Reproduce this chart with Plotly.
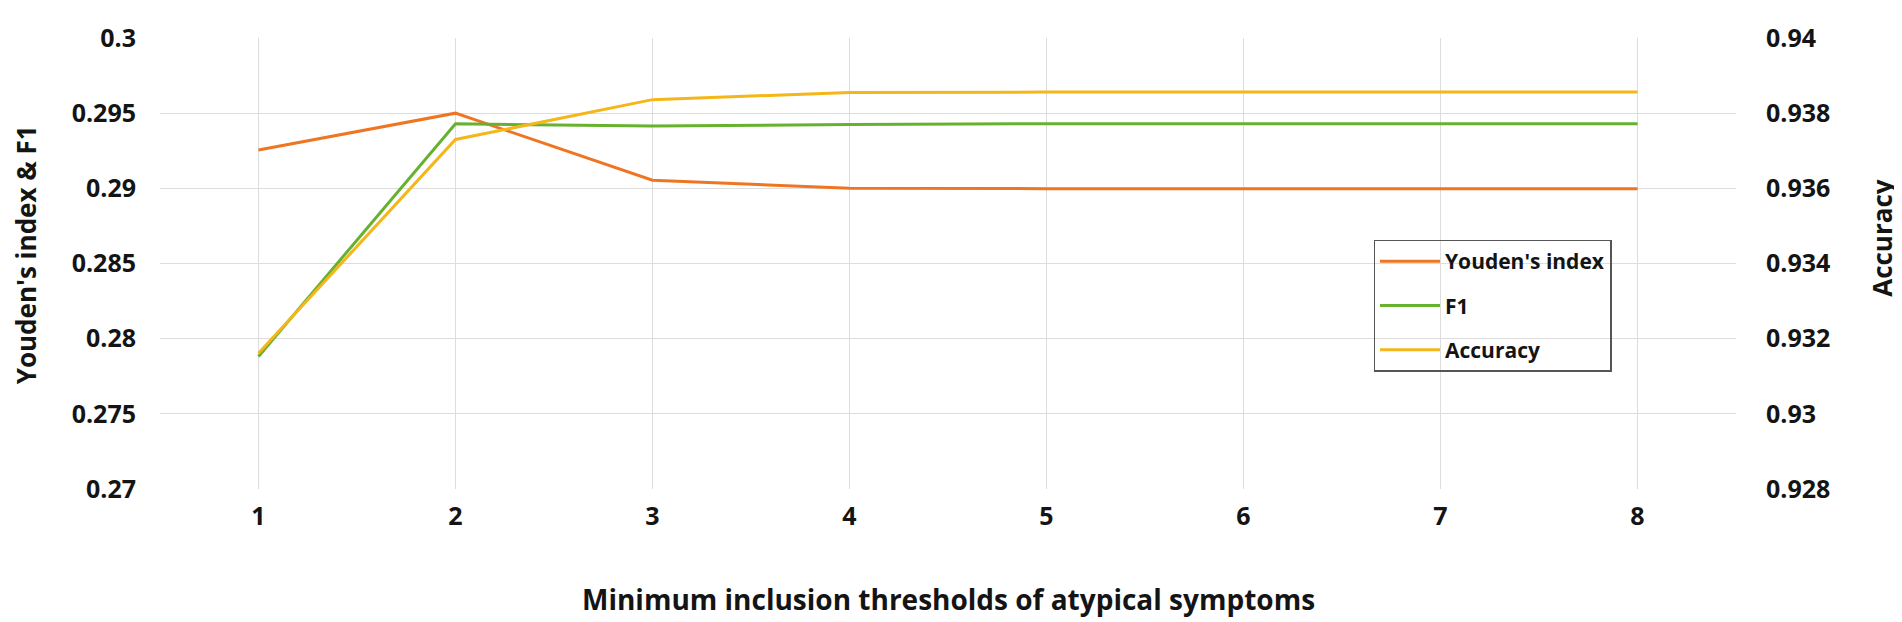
import plotly.graph_objects as go

thresholds = [1, 2, 3, 4, 5, 6, 7, 8]
youden = [0.29255, 0.2950, 0.29054, 0.2900, 0.28998, 0.28998, 0.28998, 0.28998]
f1 = [0.27882, 0.29429, 0.29414, 0.29425, 0.2943, 0.2943, 0.2943, 0.2943]
accuracy = [0.93161, 0.9373, 0.93836, 0.93855, 0.93856, 0.93856, 0.93856, 0.93856]

left_ticks = [0.27, 0.275, 0.28, 0.285, 0.29, 0.295, 0.3]
left_text = ["0.27", "0.275", "0.28", "0.285", "0.29", "0.295", "0.3"]
right_ticks = [0.928, 0.93, 0.932, 0.934, 0.936, 0.938, 0.94]
right_text = ["0.928", "0.93", "0.932", "0.934", "0.936", "0.938", "0.94"]

ORANGE = "#EE7623"
GREEN = "#66B22F"
GOLD = "#F4B619"
FONT = "Open Sans"
TXT = "#141414"

fig = go.Figure()
fig.add_trace(go.Scatter(x=thresholds, y=youden, mode="lines", name="Youden's index",
                         legendgroup="a", line=dict(color=ORANGE, width=3)))
fig.add_trace(go.Scatter(x=thresholds, y=f1, mode="lines", name="F1",
                         legendgroup="b", line=dict(color=GREEN, width=3)))
fig.add_trace(go.Scatter(x=thresholds, y=accuracy, mode="lines", name="Accuracy",
                         legendgroup="c", line=dict(color=GOLD, width=3), yaxis="y2"))

fig.update_layout(
    width=1902, height=622,
    margin=dict(l=152, r=174, t=17, b=141),
    paper_bgcolor="white", plot_bgcolor="white",
    font=dict(family=FONT, size=24, color=TXT),
    showlegend=True,
    legend=dict(x=0.770, y=0.553, xanchor="left", yanchor="top",
                bordercolor="#555555", borderwidth=1.5, bgcolor="rgba(255,255,255,0)",
                font=dict(family=FONT, size=21, color=TXT, weight="bold"),
                traceorder="grouped", tracegroupgap=14, itemwidth=60),
    xaxis=dict(range=[0.5, 8.5], tickvals=thresholds, ticktext=[str(t) for t in thresholds],
               showgrid=True, gridcolor="#DDDDDD", gridwidth=1.2, zeroline=False,
               showline=False, ticks="", ticklabelstandoff=10, ticklabeloverflow="allow",
               tickfont=dict(size=25, weight="bold")),
    yaxis=dict(range=[0.27, 0.3], tickvals=left_ticks, ticktext=left_text,
               showgrid=True, gridcolor="#DDDDDD", gridwidth=1.2, zeroline=False,
               showline=False, ticks="", ticklabelstandoff=23, ticklabeloverflow="allow",
               tickfont=dict(size=25, weight="bold")),
    yaxis2=dict(range=[0.928, 0.94], tickvals=right_ticks, ticktext=right_text,
                overlaying="y", side="right", showgrid=False, zeroline=False,
                showline=False, ticks="", ticklabelstandoff=29, ticklabeloverflow="allow",
                tickfont=dict(size=25, weight="bold")),
    annotations=[
        dict(text="Minimum inclusion thresholds of atypical symptoms", xref="paper", yref="paper",
             x=0.5, y=-0.2435, xanchor="center", yanchor="middle", showarrow=False,
             font=dict(size=28, weight="bold", color=TXT)),
        dict(text="Youden's index & F1", xref="paper", yref="paper",
             x=-0.0848, y=0.519, xanchor="center", yanchor="middle", textangle=-90,
             showarrow=False, font=dict(size=26, weight="bold", color=TXT)),
        dict(text="Accuracy", xref="paper", yref="paper",
             x=1.093, y=0.556, xanchor="center", yanchor="middle", textangle=-90,
             showarrow=False, font=dict(size=26, weight="bold", color=TXT)),
    ],
)

fig.write_html("out.html")
